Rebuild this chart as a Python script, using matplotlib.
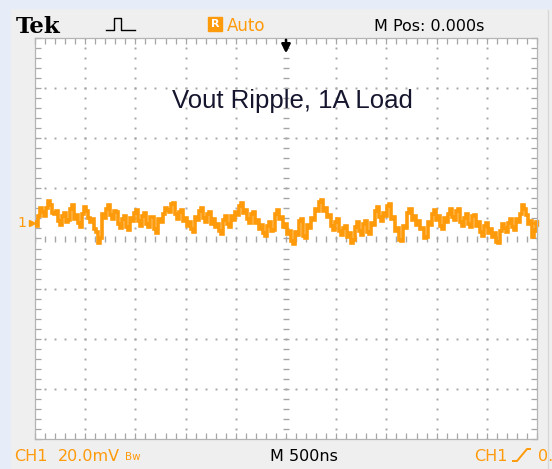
import matplotlib.pyplot as plt
import numpy as np
from matplotlib.lines import Line2D
from matplotlib.patches import Rectangle

# CH1 ripple, mV relative to the CH1 marker, one sample every 40 ns
ripple_mv = [
    0.4, 2.8, 4.4, 6.0, 7.2, 3.6, 0.8, 2.8, 0.4, 5.6,
    1.6, 0.0, 3.6, 4.8, 0.4, -2.4, -8.0, 3.6, 5.6, 3.2,
    4.8, -0.4, 1.6, -1.6, 2.0, 4.0, 0.8, 2.8, -0.4, 2.4,
    -2.4, 1.6, 3.6, 5.2, 7.6, 3.6, 4.4, 0.8, -1.2, -2.4,
    2.4, 4.8, 2.0, 3.6, -0.4, -1.6, -3.2, 1.2, -0.4, 2.8,
    4.4, 6.8, 4.0, 1.6, 3.6, 0.0, -2.4, -4.0, -1.2, -3.2,
    3.6, 1.6, -1.6, -4.4, -7.2, -3.6, 0.8, -5.2, -0.8, 2.0,
    5.6, 8.4, 4.8, 2.4, -1.2, 0.4, -3.2, -2.0, -5.6, -8.0,
    -1.6, -3.2, -0.4, -3.6, 0.0, 4.8, 2.4, 4.0, 6.8, 1.6,
    -3.2, -6.8, -1.2, 4.0, 1.2, -0.8, -2.4, -6.0, 0.4, 3.6,
    1.2, -1.2, 2.0, 3.6, 2.4, 4.8, 0.4, 2.0, -0.4, 2.8,
    -1.2, -3.6, -1.2, -4.0, -5.6, -7.6, -3.2, -2.0, 0.0, -1.6,
    1.6, 3.6, 5.6, -0.4, -5.6, 0.4,
]
# samples in between (20 ns after each of the samples above)
ripple_mid_mv = [
    -1.2, 6.0, 2.8, 8.8, 4.0, 4.8, -0.8, 4.0, 1.2, 7.2,
    3.2, -1.6, 6.4, 2.0, 1.6, -3.6, -6.0, 2.0, 7.2, 1.6,
    4.4, -2.0, 2.8, -2.8, 0.8, 5.2, -1.2, 4.0, -1.6, 2.4,
    -4.0, 0.4, 6.0, 4.4, 8.0, 1.6, 5.2, 2.0, 0.4, -3.6,
    1.2, 6.0, 0.4, 4.4, 1.6, -0.4, -4.4, 2.8, -1.6, 1.2,
    3.2, 8.0, 5.2, 0.0, 4.4, 1.2, -0.8, -5.2, 0.4, -2.8,
    5.2, 2.4, -0.4, -3.2, -8.4, -4.8, 1.6, -6.0, -2.0, 1.2,
    4.8, 9.2, 6.0, 3.2, -2.8, 1.6, -4.8, -1.2, -4.0, -6.8,
    0.4, -4.8, 0.8, -4.4, -0.8, 6.4, 0.8, 2.8, 7.6, 2.4,
    -2.0, -7.2, -2.0, 5.6, 2.8, 0.8, -2.0, -5.6, -0.8, 5.2,
    2.8, -2.4, 0.4, 5.6, 1.2, 5.6, -1.2, 3.6, -1.6, 3.2,
    0.4, -5.2, 0.0, -2.4, -4.0, -8.0, -0.4, -3.6, 1.6, -2.8,
    0.4, 7.2, 3.2, 0.8, -3.2,
]
sample_ns = 40
mv_per_div = 20.0
ns_per_div = 500
marker_div = 0.31  # CH1 marker sits a little above the screen centre

title = "Vout Ripple, 1A Load"
header_pos = "M Pos: 0.000s"
footer_scale = "20.0mV"
footer_time = "M 500ns"

ORANGE = "#ff9a0a"
DOT = "#a6a6a6"
ui_font = ["Liberation Sans Narrow", "DejaVu Sans"]

W, H = 552, 469


def fx(px):
    return px / W


def fy(py):
    return 1 - py / H


def main():
    fig = plt.figure(figsize=(W / 100, H / 100), dpi=100)
    fig.patch.set_facecolor("#efefef")
    fig.patches.append(Rectangle((0, 0), fx(10), 1, transform=fig.transFigure,
                                 color="#e6edf8", zorder=0))
    fig.patches.append(Rectangle((0, fy(8)), 1, 8 / H, transform=fig.transFigure,
                                 color="#e6edf8", zorder=0))
    fig.add_artist(Line2D([fx(548), fx(548)], [fy(10), fy(469)],
                          color="#d8d8d8", lw=1.0))

    ax = fig.add_axes([fx(35), fy(439), 502 / W, 401 / H])
    ax.set_facecolor("white")
    ax.set_xlim(-5, 5)
    ax.set_ylim(-4, 4)
    ax.set_xticks([])
    ax.set_yticks([])
    for s in ax.spines.values():
        s.set_color("#b4b4b4")
        s.set_linewidth(0.9)

    # graticule
    minor_x = np.arange(-5, 5.001, 0.2)
    minor_y = np.arange(-4, 4.001, 0.2)
    for gy in [-3, -2, -1, 1, 2, 3]:
        ax.plot(minor_x, np.full_like(minor_x, gy), ls="none", marker="s",
                ms=1.4, mew=0, color=DOT)
    for gx in [-4, -3, -2, -1, 1, 2, 3, 4]:
        ax.plot(np.full_like(minor_y, gx), minor_y, ls="none", marker="s",
                ms=1.4, mew=0, color=DOT)
    ax.plot(minor_x, np.zeros_like(minor_x), ls="none", marker="|", ms=4,
            mew=1.0, color=DOT)
    ax.plot(np.zeros_like(minor_y), minor_y, ls="none", marker="_", ms=4,
            mew=1.0, color=DOT)
    ax.plot(minor_x, np.full_like(minor_x, 4), ls="none", marker=3, ms=4,
            mew=0.9, color=DOT, clip_on=False)
    ax.plot(minor_x, np.full_like(minor_x, -4), ls="none", marker=2, ms=4,
            mew=0.9, color=DOT, clip_on=False)
    ax.plot(np.full_like(minor_y, -5), minor_y, ls="none", marker=1, ms=4,
            mew=0.9, color=DOT, clip_on=False)
    ax.plot(np.full_like(minor_y, 5), minor_y, ls="none", marker=0, ms=4,
            mew=0.9, color=DOT, clip_on=False)

    # trace: interleave the two sample sets
    mv = np.empty(len(ripple_mv) + len(ripple_mid_mv))
    mv[0::2] = ripple_mv
    mv[1::2] = ripple_mid_mv
    t_ns = np.arange(len(mv)) * (sample_ns / 2) - ns_per_div * 5
    x = t_ns / ns_per_div
    y = marker_div + mv / mv_per_div
    ax.plot(x, y, color=ORANGE, lw=2.6, drawstyle="steps-mid",
            solid_joinstyle="miter", zorder=5)

    ax.text(0.12, 2.75, title, ha="center", va="center", fontsize=18.5,
            family="Liberation Sans", color="#15152e")

    # trigger position arrow and level markers
    ax.annotate("", xy=(0, 3.64), xytext=(0, 4.02),
                arrowprops=dict(arrowstyle="-|>", color="black", lw=1.8,
                                mutation_scale=13))
    ax.plot([-5.05], [marker_div], marker=">", ms=5, color=ORANGE, clip_on=False)
    ax.plot([4.97], [marker_div], marker="<", ms=4, color=ORANGE, clip_on=False)
    fig.text(fx(17), fy(223), "1", color=ORANGE, fontsize=10, va="center",
             family=ui_font)

    # header
    fig.text(fx(16), fy(33), "Tek", fontsize=16.5, weight="bold",
             family="DejaVu Serif", va="baseline", color="black")
    fig.add_artist(Line2D([fx(106), fx(114), fx(114), fx(121), fx(121), fx(135)],
                          [fy(30), fy(30), fy(18), fy(18), fy(30), fy(30)],
                          color="black", lw=1.0))
    fig.patches.append(Rectangle((fx(208), fy(31)), 14 / W, 14 / H,
                                 transform=fig.transFigure, color=ORANGE))
    fig.text(fx(215), fy(24), "R", fontsize=8, color="white", ha="center",
             va="center", weight="bold", family=ui_font)
    fig.text(fx(227), fy(31), "Auto", fontsize=12, color=ORANGE,
             va="baseline", family=ui_font)
    fig.text(fx(374), fy(31), header_pos, fontsize=11.5, color="black",
             va="baseline", family=ui_font)

    # footer
    fig.text(fx(14), fy(461), "CH1", fontsize=11.5, color=ORANGE,
             va="baseline", family=ui_font)
    fig.text(fx(58), fy(461), footer_scale, fontsize=11.5, color=ORANGE,
             va="baseline", family=ui_font)
    fig.text(fx(125), fy(460), "Bw", fontsize=7.5, color=ORANGE,
             va="baseline", family=ui_font)
    fig.text(fx(270), fy(461), footer_time, fontsize=11.5, color="black",
             va="baseline", family=ui_font)
    fig.text(fx(474), fy(461), "CH1", fontsize=11.5, color=ORANGE,
             va="baseline", family=ui_font)
    fig.add_artist(Line2D([fx(513), fx(517), fx(527), fx(530)],
                          [fy(461), fy(461), fy(449), fy(449)],
                          color=ORANGE, lw=1.4))
    fig.text(fx(538), fy(461), "0.", fontsize=11.5, color=ORANGE,
             va="baseline", family=ui_font)

    fig.savefig("out.png", dpi=100, facecolor=fig.get_facecolor())


if __name__ == "__main__":
    main()
